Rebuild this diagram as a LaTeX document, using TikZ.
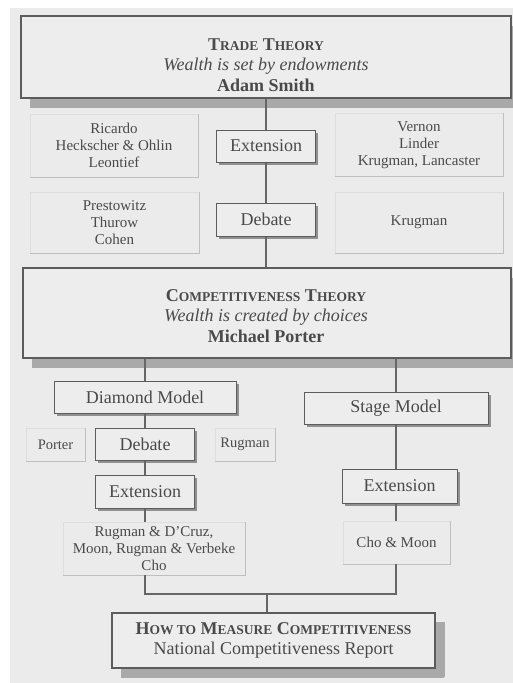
\documentclass[tikz,border=0pt]{standalone}
\usepackage{fontspec}
\setmainfont{Liberation Serif}
\usetikzlibrary{shadows}

\definecolor{paper}{HTML}{EBEBEB}
\definecolor{boxfill}{HTML}{EDEDED}
\definecolor{ink}{HTML}{4A4A4A}
\definecolor{frame}{HTML}{5C5C5C}
\definecolor{wire}{HTML}{666666}
\definecolor{shade}{HTML}{A9A9A9}
\definecolor{darkshade}{HTML}{909090}
\definecolor{softline}{HTML}{DEDEDE}
\definecolor{softedge}{HTML}{BFBFBF}

% faked small capitals: full-size initial, reduced capitals after it
\newcommand\capsz{\fontsize{13.5}{13.5}\selectfont}
\newcommand\fakesc[2]{#1{\capsz #2}}

\begin{document}
\begin{tikzpicture}[x=1pt,y=-1pt,
  bigbox/.style={draw=frame, line width=1.2pt, fill=boxfill, inner sep=0pt,
    drop shadow={shadow xshift=9pt, shadow yshift=-10pt, fill=shade, opacity=1}},
  bigtext/.style={align=center, text=ink, inner sep=0pt,
    font=\fontsize{18}{21}\selectfont},
  smallbox/.style={draw=frame, line width=1pt, fill=boxfill, inner sep=0pt,
    text=ink, font=\fontsize{18}{20}\selectfont,
    drop shadow={shadow xshift=2.5pt, shadow yshift=-2.5pt, fill=darkshade, opacity=1}},
  softbox/.style={draw=softline, line width=0.6pt, inner sep=0pt, align=center,
    text=ink, font=\fontsize{15}{17}\selectfont},
  wirestyle/.style={draw=wire, line width=1.2pt},
  edgestyle/.style={draw=softedge, line width=1pt}]

\useasboundingbox (0,0) rectangle (513,683);
\clip (0,0) rectangle (513,683);
\fill[paper] (10,8) rectangle (513,683);

% ---- trade theory -------------------------------------------------------
\node[bigbox, minimum width=490pt, minimum height=82pt] (trade) at (266,57) {};
\node[bigtext] (tradeT) at (266,65)
  {{\bfseries\fakesc{T}{RADE} \fakesc{T}{HEORY}}\\[-1pt]
   \textit{Wealth is set by endowments}\\
   \textbf{Adam Smith}};

\node[softbox, minimum width=168pt, minimum height=63pt] (ric) at (114,145.5)
  {Ricardo\\Heckscher \& Ohlin\\Leontief};
\node[softbox, minimum width=168pt, minimum height=63pt] (ver) at (419,145)
  {Vernon\\Linder\\Krugman, Lancaster};
\node[smallbox, minimum width=99pt, minimum height=32pt] (ext1) at (266,146) {Extension};

\node[softbox, minimum width=169pt, minimum height=61pt] (pre) at (114.5,222.5)
  {Prestowitz\\Thurow\\Cohen};
\node[softbox, minimum width=168pt, minimum height=61pt] (kru) at (419,222.5) {Krugman};
\node[smallbox, minimum width=99pt, minimum height=33pt] (deb1) at (266,219.5) {Debate};

% ---- competitiveness theory ----------------------------------------------
\node[bigbox, minimum width=488pt, minimum height=90pt] (comp) at (267,313) {};
\node[bigtext] (compT) at (266,316)
  {{\bfseries\fakesc{C}{OMPETITIVENESS} \fakesc{T}{HEORY}}\\[-1pt]
   \textit{Wealth is created by choices}\\
   \textbf{Michael Porter}};

% diamond branch
\node[smallbox, minimum width=182pt, minimum height=32pt] (diam) at (145,397) {Diamond Model};
\node[smallbox, minimum width=99pt, minimum height=32pt] (deb2) at (145,444) {Debate};
\node[softbox, minimum width=59pt, minimum height=33pt, font=\fontsize{14.5}{17}\selectfont]
  (por) at (55.5,444.5) {Porter};
\node[softbox, minimum width=60pt, minimum height=33pt, font=\fontsize{14.5}{17}\selectfont]
  (rug) at (245,444.5) {Rugman};
\node[smallbox, minimum width=99pt, minimum height=33pt] (ext2) at (145,491.5) {Extension};
\node[softbox, minimum width=182pt, minimum height=53pt] (lowl) at (154,548.5)
  {Rugman \& D'Cruz,\\Moon, Rugman \& Verbeke\\Cho};

% stage branch
\node[smallbox, minimum width=184pt, minimum height=32pt] (stage) at (396,408) {Stage Model};
\node[smallbox, minimum width=115pt, minimum height=34pt] (ext3) at (399.5,486) {Extension};
\node[softbox, minimum width=107pt, minimum height=43pt] (cho) at (396.5,542.5) {Cho \& Moon};

% ---- measurement --------------------------------------------------------
\node[bigbox, minimum width=323pt, minimum height=55pt,
  drop shadow={shadow xshift=10pt, shadow yshift=-9pt, fill=shade, opacity=1}]
  (meas) at (273.5,640.5) {};
\node[bigtext] (measT) at (273.5,640.5)
  {{\bfseries\fakesc{H}{OW TO} \fakesc{M}{EASURE} \fakesc{C}{OMPETITIVENESS}}\\[-1pt]
   National Competitiveness Report};

% darker right and bottom edges of the plain text panels
\foreach \n in {ric,ver,pre,kru,por,rug,lowl,cho}
  \draw[edgestyle] (\n.north east) -- (\n.south east) -- (\n.south west);

% ---- connectors ---------------------------------------------------------
\coordinate (joinL) at (145,594);
\coordinate (joinR) at (396,594);
\coordinate (joinM) at (267,594);

\draw[wirestyle] (ext1.north |- trade.south) -- (ext1.north);
\draw[wirestyle] (ext1.south) -- (deb1.north);
\draw[wirestyle] (deb1.south) -- (deb1.south |- comp.north);

\draw[wirestyle] (diam.north |- comp.south) -- (diam.north);
\draw[wirestyle] (diam.south) -- (deb2.north);
\draw[wirestyle] (deb2.south) -- (ext2.north);
\draw[wirestyle] (ext2.south) -- (ext2.south |- lowl.north);

\draw[wirestyle] (stage.north |- comp.south) -- (stage.north);
\draw[wirestyle] (stage.south) -- (stage.south |- ext3.north);
\draw[wirestyle] (stage.south |- ext3.south) -- (stage.south |- cho.north);

\draw[wirestyle] (joinL |- lowl.south) -- (joinL) -- (joinR) -- (joinR |- cho.south);
\draw[wirestyle] (joinM) -- (joinM |- meas.north);
\end{tikzpicture}
\end{document}
